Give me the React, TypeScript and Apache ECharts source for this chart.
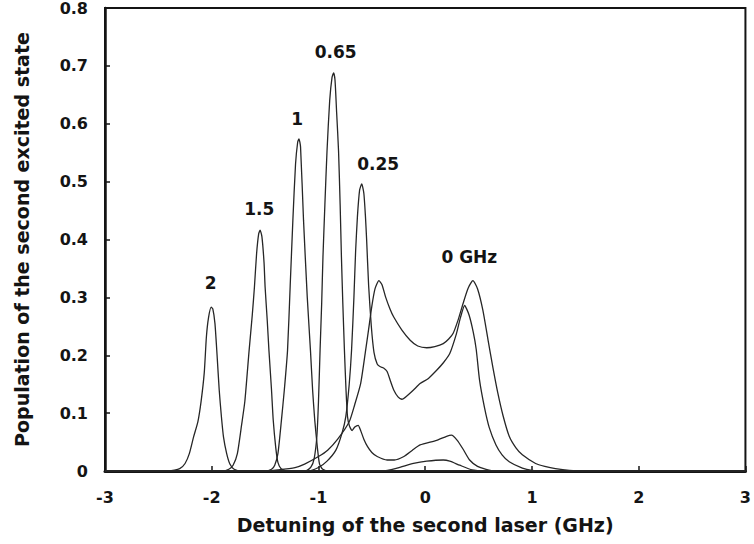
import React, { useEffect, useRef } from "react";
import * as echarts from "echarts";

// Detuning (GHz) vs population, one curve per first-laser detuning
const curve2GHz: [number, number][] = [
  [-3, 0], [-2.4, 0], [-2.3, 0.004], [-2.25, 0.013], [-2.21, 0.03], [-2.17, 0.059],
  [-2.13, 0.085], [-2.1, 0.12], [-2.07, 0.17], [-2.05, 0.232], [-2.03, 0.265],
  [-2.005, 0.283], [-1.99, 0.28], [-1.97, 0.255], [-1.95, 0.2], [-1.93, 0.14],
  [-1.91, 0.095], [-1.89, 0.059], [-1.86, 0.03], [-1.83, 0.012], [-1.79, 0.003],
  [-1.72, 0], [3, 0],
];

const curve15GHz: [number, number][] = [
  [-3, 0], [-1.9, 0], [-1.84, 0.003], [-1.8, 0.01], [-1.76, 0.03], [-1.72, 0.08],
  [-1.69, 0.12], [-1.65, 0.208], [-1.62, 0.27], [-1.6, 0.318], [-1.58, 0.375],
  [-1.56, 0.41], [-1.547, 0.416], [-1.53, 0.405], [-1.51, 0.36], [-1.5, 0.318],
  [-1.48, 0.26], [-1.464, 0.208], [-1.44, 0.14], [-1.424, 0.088], [-1.4, 0.04],
  [-1.38, 0.015], [-1.35, 0.004], [-1.3, 0], [3, 0],
];

const curve1GHz: [number, number][] = [
  [-3, 0], [-1.5, 0], [-1.44, 0.003], [-1.41, 0.01], [-1.38, 0.03], [-1.347, 0.088],
  [-1.32, 0.14], [-1.29, 0.208], [-1.265, 0.32], [-1.24, 0.433], [-1.215, 0.53],
  [-1.195, 0.568], [-1.183, 0.574], [-1.168, 0.56], [-1.14, 0.433], [-1.105, 0.3],
  [-1.075, 0.208], [-1.055, 0.14], [-1.035, 0.088], [-1.01, 0.04], [-0.99, 0.012],
  [-0.96, 0.003], [-0.9, 0], [-0.4, 0], [-0.264, 0.005], [-0.11, 0.013],
  [0.014, 0.017], [0.169, 0.019], [0.23, 0.017], [0.323, 0.01], [0.44, 0.002],
  [0.55, 0], [3, 0],
];

const curve065GHz: [number, number][] = [
  [-3, 0], [-1.12, 0], [-1.07, 0.007], [-1.04, 0.022], [-1.015, 0.06], [-1.0, 0.12],
  [-0.985, 0.209], [-0.97, 0.29], [-0.958, 0.37], [-0.94, 0.46], [-0.92, 0.553],
  [-0.895, 0.64], [-0.873, 0.68], [-0.858, 0.688], [-0.845, 0.675], [-0.83, 0.62],
  [-0.812, 0.553], [-0.797, 0.46], [-0.785, 0.37], [-0.772, 0.29], [-0.757, 0.209],
  [-0.742, 0.14], [-0.728, 0.094], [-0.71, 0.078], [-0.685, 0.07], [-0.66, 0.076],
  [-0.628, 0.079], [-0.605, 0.07], [-0.575, 0.055], [-0.54, 0.042], [-0.5, 0.032],
  [-0.45, 0.025], [-0.357, 0.019], [-0.29, 0.019], [-0.2, 0.025], [-0.12, 0.036],
  [-0.048, 0.045], [0.107, 0.053], [0.2, 0.06], [0.246, 0.062], [0.3, 0.053],
  [0.354, 0.038], [0.416, 0.019], [0.49, 0.008], [0.57, 0.003], [0.65, 0], [3, 0],
];

const curve025GHz: [number, number][] = [
  [-3, 0], [-1.1, 0], [-1.0, 0.006], [-0.92, 0.017], [-0.837, 0.036], [-0.78, 0.065],
  [-0.744, 0.094], [-0.712, 0.15], [-0.69, 0.209], [-0.668, 0.3], [-0.652, 0.38],
  [-0.635, 0.44], [-0.615, 0.485], [-0.595, 0.496], [-0.575, 0.48], [-0.56, 0.44],
  [-0.549, 0.4], [-0.53, 0.32], [-0.505, 0.25], [-0.48, 0.205], [-0.45, 0.185],
  [-0.42, 0.18], [-0.39, 0.178], [-0.357, 0.172], [-0.325, 0.155], [-0.295, 0.14],
  [-0.255, 0.128], [-0.218, 0.124], [-0.17, 0.13], [-0.11, 0.14], [-0.048, 0.151],
  [0.03, 0.16], [0.107, 0.174], [0.17, 0.187], [0.23, 0.203], [0.292, 0.237],
  [0.33, 0.265], [0.369, 0.286], [0.41, 0.27], [0.45, 0.24], [0.478, 0.21],
  [0.509, 0.157], [0.555, 0.11], [0.6, 0.075], [0.663, 0.045], [0.72, 0.028],
  [0.787, 0.016], [0.91, 0.005], [1.0, 0.001], [1.1, 0], [3, 0],
];

const curve0GHz: [number, number][] = [
  [-3, 0], [-1.5, 0], [-1.38, 0.002], [-1.22, 0.006], [-1.13, 0.012], [-1.0, 0.025],
  [-0.914, 0.036], [-0.82, 0.055], [-0.712, 0.085], [-0.66, 0.115], [-0.605, 0.151],
  [-0.558, 0.209], [-0.53, 0.245], [-0.5, 0.285], [-0.47, 0.315], [-0.434, 0.329],
  [-0.405, 0.322], [-0.37, 0.3], [-0.33, 0.28], [-0.295, 0.266], [-0.22, 0.244],
  [-0.141, 0.226], [-0.07, 0.216], [0.014, 0.213], [0.09, 0.215], [0.169, 0.22],
  [0.22, 0.228], [0.262, 0.238], [0.31, 0.262], [0.354, 0.289], [0.4, 0.315],
  [0.447, 0.329], [0.49, 0.315], [0.54, 0.278], [0.59, 0.225], [0.633, 0.18],
  [0.68, 0.135], [0.73, 0.095], [0.787, 0.06], [0.85, 0.04], [0.91, 0.028],
  [1.034, 0.013], [1.12, 0.008], [1.22, 0.004], [1.35, 0.001], [1.5, 0], [3, 0],
];

const curves = [curve2GHz, curve15GHz, curve1GHz, curve065GHz, curve025GHz, curve0GHz];
const curveNames = ["2", "1.5", "1", "0.65", "0.25", "0"];

const peakLabels = ["2", "1.5", "1", "0.65", "0.25", "0 GHz"];
const peakLabelX = [-2.01, -1.554, -1.2, -0.839, -0.441, 0.413];
const peakLabelY = [0.324, 0.452, 0.609, 0.724, 0.531, 0.369];

const xMin = -3;
const xMax = 3;
const yMin = 0;
const yMax = 0.8;

const FONT = "DejaVu Sans";
const INK = "#141414";

export default function App() {
  const ref = useRef<HTMLDivElement | null>(null);

  useEffect(() => {
    if (!ref.current) return;
    const chart = echarts.init(ref.current, undefined, { renderer: "svg" });

    const lineSeries = curves.map((data, i) => ({
      name: curveNames[i],
      type: "line",
      data,
      showSymbol: false,
      smooth: 0.2,
      clip: true,
      lineStyle: { color: "#262626", width: 1.3 },
      z: 2,
    }));

    const labelSeries = {
      type: "scatter",
      name: "labels",
      symbolSize: 0,
      silent: true,
      itemStyle: { opacity: 1, color: INK },
      data: peakLabels.map((t, i) => [peakLabelX[i], peakLabelY[i], t]),
      label: {
        show: true,
        position: "inside",
        formatter: (p: any) => p.data[2],
        fontFamily: FONT,
        fontWeight: "bold",
        fontSize: 17,
        color: INK,
        opacity: 1,
      },
      z: 3,
    };

    chart.setOption({
      animation: false,
      backgroundColor: "#ffffff",
      grid: {
        left: 105,
        top: 7,
        right: 2,
        bottom: 73,
        show: true,
        borderColor: INK,
        borderWidth: 2,
      },
      xAxis: {
        type: "value",
        min: xMin,
        max: xMax,
        interval: 1,
        axisLine: { show: true, onZero: false, lineStyle: { color: INK, width: 3 } },
        axisTick: { show: true, inside: true, length: 5, lineStyle: { color: INK, width: 1.5 } },
        splitLine: { show: false },
        axisLabel: {
          fontFamily: FONT,
          fontWeight: "bold",
          fontSize: 16,
          color: INK,
          margin: 18,
        },
        name: "Detuning of the second laser (GHz)",
        nameLocation: "middle",
        nameGap: 44,
        nameTextStyle: { fontFamily: FONT, fontWeight: "bold", fontSize: 19, color: INK },
      },
      yAxis: {
        type: "value",
        min: yMin,
        max: yMax,
        interval: 0.1,
        axisLine: { show: true, onZero: false, lineStyle: { color: INK, width: 2.5 } },
        axisTick: { show: true, inside: true, length: 5, lineStyle: { color: INK, width: 1.5 } },
        splitLine: { show: false },
        axisLabel: {
          fontFamily: FONT,
          fontWeight: "bold",
          fontSize: 16,
          color: INK,
          margin: 17,
          formatter: (v: number) => (v === 0 ? "0" : v.toFixed(1)),
        },
        name: "Population of the second excited state",
        nameLocation: "middle",
        nameGap: 74,
        nameTextStyle: { fontFamily: FONT, fontWeight: "bold", fontSize: 19, color: INK },
      },
      series: [...lineSeries, labelSeries],
    });

    return () => chart.dispose();
  }, []);

  return (
    <div
      ref={ref}
      style={{ position: "absolute", left: 0, top: 0, width: 754, height: 544, background: "#fff" }}
    />
  );
}
